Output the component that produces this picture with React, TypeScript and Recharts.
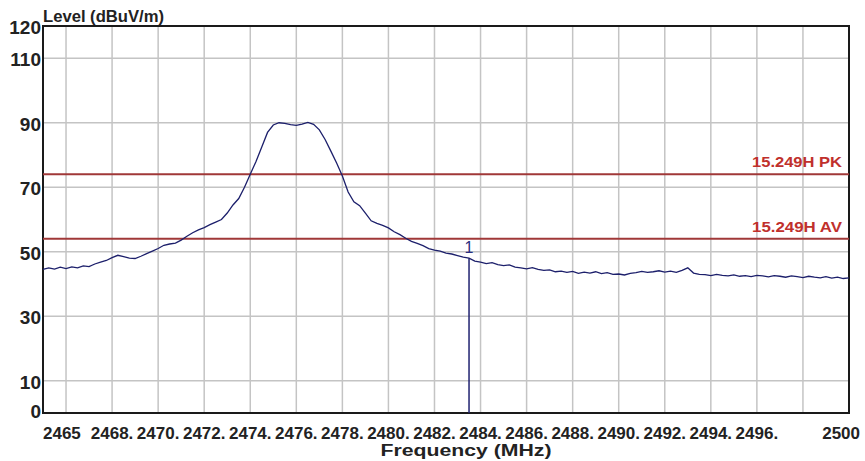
import {
  CartesianGrid,
  Line,
  LineChart,
  ReferenceArea,
  ReferenceLine,
  XAxis,
  YAxis,
} from "recharts";

const FONT = '"Liberation Sans", Arial, sans-serif';

// trace sampled every 0.25 MHz from 2465 MHz
const freqStart = 2465;
const freqStep = 0.25;
const levels = [
  44.5, 45.0, 44.6, 45.2, 44.8, 45.3, 45.0, 45.6, 45.4, 46.2, 46.8, 47.3,
  48.2, 48.9, 48.5, 48.0, 47.9, 48.6, 49.4, 50.2, 51.0, 52.0, 52.4, 52.7,
  53.6, 54.8, 55.9, 56.8, 57.5, 58.4, 59.2, 60.0, 62.0, 64.5, 66.5, 70.0,
  74.0, 78.0, 82.5, 87.0, 89.3, 90.0, 89.8, 89.4, 89.2, 89.6, 90.1, 89.5,
  87.8, 84.8, 81.2, 77.5, 73.5, 68.5, 65.5, 64.3, 62.0, 59.6, 58.8, 58.2,
  57.4, 56.2, 55.3, 54.2, 53.2, 52.6, 51.9, 51.0, 50.5, 50.2, 49.6, 49.3,
  48.8, 48.3, 48.0, 47.1, 46.8, 46.3, 46.6, 46.0, 45.7, 45.9, 45.2, 45.0,
  44.7, 45.1, 44.5, 44.2, 44.4, 43.8, 44.0, 43.6, 43.9, 43.3, 43.7, 43.4,
  43.8, 43.2, 43.5, 43.0, 43.1, 42.8, 43.3, 43.5, 43.9, 43.6, 43.8, 44.1,
  43.7, 44.0, 43.6, 44.2, 45.0, 43.4, 43.0, 42.9, 42.6, 43.0, 42.7, 42.5,
  42.8, 42.4, 42.6, 42.3, 42.7, 42.5, 42.2, 42.6, 42.4, 42.1, 42.5, 42.3,
  42.0, 42.4, 42.1, 41.9, 42.3, 41.8, 42.1, 41.7, 41.9,
];

const xGridTicks = [
  2466, 2468, 2470, 2472, 2474, 2476, 2478, 2480, 2482, 2484, 2486, 2488,
  2490, 2492, 2494, 2496, 2498,
];
const xTickValues = [
  2465, 2468, 2470, 2472, 2474, 2476, 2478, 2480, 2482, 2484, 2486, 2488,
  2490, 2492, 2494, 2496, 2500,
];
const xTickLabels = [
  "2465", "2468.", "2470.", "2472.", "2474.", "2476.", "2478.", "2480.",
  "2482.", "2484.", "2486.", "2488.", "2490.", "2492.", "2494.", "2496.",
  "2500",
];
const yTicks = [0, 10, 30, 50, 70, 90, 110, 120];

const limitNames = ["15.249H PK", "15.249H AV"];
const limitLevels = [74, 54];

const markerName = "1";
const markerFreq = 2483.5;
const markerLevel = 48;

const data = levels.map((level, i) => ({
  freq: freqStart + i * freqStep,
  level,
}));

function XTick({ x, y, payload }: any) {
  const idx = xTickValues.indexOf(payload.value);
  if (idx < 0) return <g />;
  const first = idx === 0;
  const last = idx === xTickValues.length - 1;
  return (
    <text
      x={last ? x + 11 : x}
      y={y + 24}
      textAnchor={first ? "start" : last ? "end" : "middle"}
      fill="#222"
      fontFamily={FONT}
      fontSize={17}
      fontWeight="bold"
    >
      {xTickLabels[idx]}
    </text>
  );
}

function YTick({ x, y, payload }: any) {
  return (
    <text
      x={x}
      y={y}
      dy={payload.value === 0 ? 5 : 8}
      textAnchor="end"
      fill="#222"
      fontFamily={FONT}
      fontSize={19}
      fontWeight="bold"
    >
      {payload.value}
    </text>
  );
}

function LimitLabel({ viewBox, name }: any) {
  return (
    <text
      x={viewBox.x + viewBox.width - 7}
      y={viewBox.y - 7}
      textAnchor="end"
      fill="#c0302c"
      fontFamily={FONT}
      fontSize={15}
      fontWeight="bold"
      textLength={90}
      lengthAdjust="spacingAndGlyphs"
    >
      {name}
    </text>
  );
}

export default function App() {
  return (
    <div style={{ position: "absolute", left: 0, top: 0, background: "#fff" }}>
      <LineChart
        width={865}
        height={461}
        data={data}
        margin={{ top: 26, right: 16, bottom: 0, left: 0 }}
      >
        <CartesianGrid stroke="#c4c4c4" strokeWidth={1.5} />
        <XAxis
          dataKey="freq"
          type="number"
          domain={[2465, 2500]}
          ticks={[2465, ...xGridTicks, 2500]}
          interval={0}
          tick={<XTick />}
          tickLine={false}
          tickSize={0}
          axisLine={false}
          height={48}
          label={(props: any) => {
            const vb = props.viewBox;
            return (
              <text
                x={vb.x + vb.width / 2 + 20}
                y={vb.y + 43}
                textAnchor="middle"
                fill="#222"
                fontFamily={FONT}
                fontSize={16}
                fontWeight="bold"
                textLength={171}
                lengthAdjust="spacingAndGlyphs"
              >
                Frequency (MHz)
              </text>
            );
          }}
        />
        <YAxis
          type="number"
          domain={[0, 120]}
          ticks={yTicks}
          interval={0}
          tick={<YTick />}
          tickLine={false}
          tickSize={0}
          tickMargin={2}
          axisLine={false}
          width={43}
          label={(props: any) => {
            const vb = props.viewBox;
            return (
              <text
                x={vb.x + vb.width}
                y={vb.y - 4}
                fill="#222"
                fontFamily={FONT}
                fontSize={16}
                fontWeight="bold"
                textLength={121}
                lengthAdjust="spacingAndGlyphs"
              >
                Level (dBuV/m)
              </text>
            );
          }}
        />
        {limitLevels.map((lv, i) => (
          <ReferenceLine
            key={limitNames[i]}
            y={lv}
            stroke="#a03838"
            strokeWidth={2}
            label={<LimitLabel name={limitNames[i]} />}
          />
        ))}
        <ReferenceLine
          segment={[
            { x: markerFreq, y: 0 },
            { x: markerFreq, y: markerLevel },
          ]}
          stroke="#1f2270"
          strokeWidth={1.5}
          label={{
            value: markerName,
            position: "top",
            fill: "#2a2e80",
            fontSize: 16,
            fontFamily: FONT,
          }}
        />
        <Line
          dataKey="level"
          stroke="#1c1f6b"
          strokeWidth={1.3}
          dot={false}
          isAnimationActive={false}
        />
        <ReferenceArea
          x1={2465}
          x2={2500}
          y1={0}
          y2={120}
          fill="none"
          stroke="#1a1a1a"
          strokeWidth={2}
          ifOverflow="visible"
        />
      </LineChart>
    </div>
  );
}
